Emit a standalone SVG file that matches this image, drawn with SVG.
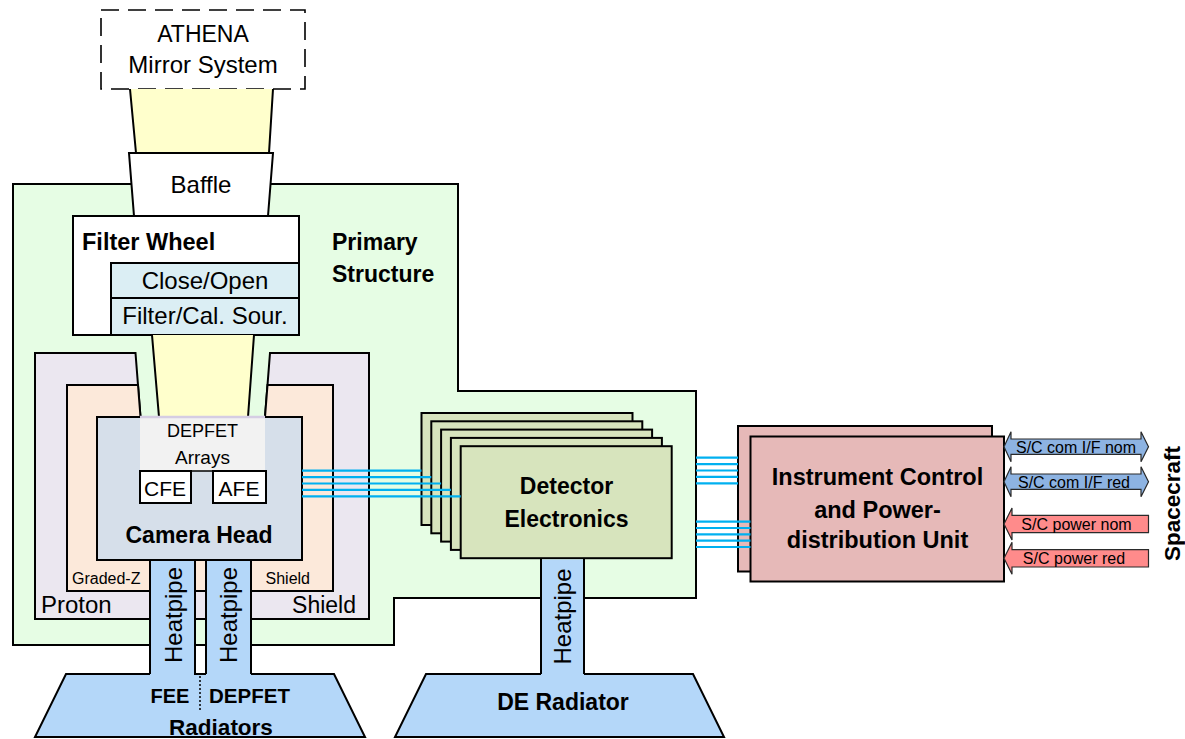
<svg xmlns="http://www.w3.org/2000/svg" width="1185" height="739" viewBox="0 0 1185 739">
<style>
text { font-family: "Liberation Sans", Arial, sans-serif; fill: #000; }
.b { font-weight: bold; }
.box { stroke: #000; stroke-width: 2; }
.edge { fill: none; stroke: #000; stroke-width: 2; }
.cable { stroke: #00b0f0; stroke-width: 2.2; fill: none; }
.pipe { fill: #b4d7f9; }
.beam { fill: #ffffcc; }
.de { fill: #d7e4bd; }
.icpu { fill: #e6b9b8; }
.com { fill: #8db3e2; stroke: #2a2a2a; stroke-width: 1.2; }
.pwr { fill: #ff8b8b; stroke: #2a2a2a; stroke-width: 1.2; }
</style>
<rect width="1185" height="739" fill="#fff"/>

<!-- primary structure (stepped outline) -->
<g id="primary-structure">
  <path d="M13,184 H458 V391 H696 V598 H394 V645 H13 Z" fill="#e6fde4" class="box"/>
  <text class="b" x="332" y="250" font-size="23">Primary</text>
  <text class="b" x="332" y="281.5" font-size="23">Structure</text>
</g>

<!-- telescope optics -->
<g id="mirror-system">
  <rect x="101" y="10" width="204" height="79" fill="#fff" stroke="#000" stroke-width="1.6" stroke-dasharray="18 9"/>
  <text x="203" y="41.5" font-size="23" text-anchor="middle">ATHENA</text>
  <text x="203" y="73" font-size="24" text-anchor="middle">Mirror System</text>
</g>

<g id="beam-upper">
  <path d="M130,89 L136,153 H269 L273,89 Z" class="beam"/>
  <path d="M130,89 L136,153 M273,89 L269,153" class="edge"/>
</g>

<g id="baffle">
  <path d="M129,153 H273 L268,216 H134 Z" fill="#fff" class="box"/>
  <text x="201" y="192.5" font-size="24" text-anchor="middle">Baffle</text>
</g>

<g id="filter-wheel">
  <rect x="73" y="216" width="226" height="119" fill="#fff" class="box"/>
  <text class="b" x="82" y="249.5" font-size="23.5">Filter Wheel</text>
  <rect x="111" y="263" width="188" height="35" fill="#dbeef4" class="box"/>
  <rect x="111" y="298" width="188" height="37" fill="#dbeef4" class="box"/>
  <text x="205" y="288.5" font-size="24" text-anchor="middle">Close/Open</text>
  <text x="205" y="324" font-size="24" text-anchor="middle">Filter/Cal. Sour.</text>
</g>

<!-- shielding around the camera -->
<g id="proton-shield">
  <path d="M35,353 H135.5 L140.5,417 H265 L270,353 H369 V619 H35 Z" fill="#ebe7f0"/>
  <path d="M140.5,417 L135.5,353 H35 V619 H369 V353 H270 L265,417" class="edge"/>
  <text x="41" y="613" font-size="24">Proton</text>
  <text x="356" y="613" font-size="23" text-anchor="end">Shield</text>
</g>

<g id="graded-z-shield">
  <path d="M67,385 H138 L140.5,417 H265 L267.5,385 H333 V591 H67 Z" fill="#fce9da"/>
  <path d="M140.5,417 L138,385 H67 V591 H333 V385 H267.5 L265,417" class="edge"/>
  <text x="72" y="584" font-size="16">Graded-Z</text>
  <text x="265.5" y="584" font-size="16">Shield</text>
</g>

<g id="beam-lower">
  <path d="M152,335 L159,417 H248 L254,335 Z" class="beam"/>
  <path d="M152,335 L159,417 M254,335 L248,417" class="edge"/>
</g>

<g id="camera-head">
  <rect x="97" y="417" width="205" height="143" fill="#d6dfea" class="box"/>
  <rect x="140" y="416" width="125" height="55" fill="#f2f2f2"/>
  <line x1="140" y1="417" x2="265" y2="417" stroke="#d5cde3" stroke-width="2.5"/>
  <line x1="140" y1="471" x2="266" y2="471" stroke="#000" stroke-width="1.5"/>
  <text x="202.5" y="437" font-size="18" text-anchor="middle">DEPFET</text>
  <text x="202.5" y="463.5" font-size="19" text-anchor="middle">Arrays</text>
  <rect x="140" y="471" width="51" height="32" fill="#fff" class="box"/>
  <rect x="213" y="471" width="53" height="32" fill="#fff" class="box"/>
  <text x="165" y="495.5" font-size="21" text-anchor="middle">CFE</text>
  <text x="239" y="495.5" font-size="21" text-anchor="middle">AFE</text>
  <text class="b" x="199" y="542.5" font-size="23" text-anchor="middle">Camera Head</text>
</g>

<g id="fee-depfet-radiators">
  <path d="M66,674 H334 L365,737 H35 Z" class="pipe box"/>
  <rect x="150" y="561" width="45" height="114" class="pipe"/>
  <rect x="206" y="561" width="45" height="114" class="pipe"/>
  <path d="M150,560 V674 M195,560 V674 H206 M206,560 V674 M251,560 V674" class="edge"/>
  <line x1="200" y1="676" x2="200" y2="712" stroke="#000" stroke-width="1.5" stroke-dasharray="2 2"/>
  <text transform="translate(181.5,615) rotate(-90)" font-size="24" text-anchor="middle">Heatpipe</text>
  <text transform="translate(237,615) rotate(-90)" font-size="24" text-anchor="middle">Heatpipe</text>
  <text class="b" x="170" y="702.5" font-size="20" text-anchor="middle">FEE</text>
  <text class="b" x="249.5" y="702.5" font-size="20.5" text-anchor="middle">DEPFET</text>
  <text class="b" x="221" y="735" font-size="22.5" text-anchor="middle">Radiators</text>
</g>

<!-- stack of detector electronics boards -->
<g id="detector-electronics">
  <rect x="421.5" y="413" width="211" height="112" class="de box"/>
  <rect x="431.3" y="421.3" width="211" height="112" class="de box"/>
  <rect x="441.1" y="429.6" width="211" height="112" class="de box"/>
  <rect x="450.9" y="437.9" width="211" height="112" class="de box"/>
  <rect x="460.7" y="446.2" width="211" height="112" class="de box"/>
  <text class="b" x="566.5" y="493.5" font-size="23" text-anchor="middle">Detector</text>
  <text class="b" x="566.5" y="527" font-size="23" text-anchor="middle">Electronics</text>
</g>

<g id="de-radiator">
  <path d="M426,674 H693 L724,737 H395 Z" class="pipe box"/>
  <rect x="541" y="559.5" width="43" height="115.5" class="pipe"/>
  <path d="M541,558 V674 M584,558 V674" class="edge"/>
  <text transform="translate(571,616.5) rotate(-90)" font-size="24" text-anchor="middle">Heatpipe</text>
  <text class="b" x="563" y="709.5" font-size="23" text-anchor="middle">DE Radiator</text>
</g>

<g id="icpu">
  <rect x="738" y="426" width="254" height="145.5" class="icpu box"/>
  <rect x="750.5" y="436.5" width="253.5" height="145" class="icpu box"/>
  <text class="b" x="877.5" y="485" font-size="23.5" text-anchor="middle">Instrument Control</text>
  <text class="b" x="877.5" y="518.3" font-size="23.5" text-anchor="middle">and Power-</text>
  <text class="b" x="877.5" y="548.3" font-size="23.5" text-anchor="middle">distribution Unit</text>
</g>

<g id="spacecraft">
  <text class="b" transform="translate(1180,503.5) rotate(-90)" font-size="22.5" text-anchor="middle">Spacecraft</text>
</g>

<!-- harness lines and spacecraft interfaces -->
<g id="connectors">
  <g class="cable">
    <line x1="302" y1="470.7" x2="421.5" y2="470.7"/>
    <line x1="302" y1="477.1" x2="431.3" y2="477.1"/>
    <line x1="302" y1="483.5" x2="441.1" y2="483.5"/>
    <line x1="302" y1="489.9" x2="450.9" y2="489.9"/>
    <line x1="302" y1="496.3" x2="460.7" y2="496.3"/>

    <line x1="696" y1="457.7" x2="738" y2="457.7"/>
    <line x1="696" y1="464.1" x2="738" y2="464.1"/>
    <line x1="696" y1="470.5" x2="738" y2="470.5"/>
    <line x1="696" y1="476.9" x2="738" y2="476.9"/>
    <line x1="696" y1="483.3" x2="738" y2="483.3"/>

    <line x1="696" y1="521.7" x2="750.5" y2="521.7"/>
    <line x1="696" y1="528" x2="750.5" y2="528"/>
    <line x1="696" y1="534.3" x2="750.5" y2="534.3"/>
    <line x1="696" y1="540.6" x2="750.5" y2="540.6"/>
    <line x1="696" y1="547" x2="750.5" y2="547"/>
  </g>

  <polygon class="com" points="1004,446.7 1011,431.7 1011,439 1141,439 1141,431.7 1148.5,446.7 1141,461.7 1141,454.3 1011,454.3 1011,461.7"/>
  <text x="1076" y="453" font-size="16" text-anchor="middle">S/C com I/F nom</text>

  <polygon class="com" points="1004,481.7 1011,466.7 1011,474 1141,474 1141,466.7 1148.5,481.7 1141,496.7 1141,489.4 1011,489.4 1011,496.7"/>
  <text x="1074" y="488" font-size="16" text-anchor="middle">S/C com I/F red</text>

  <polygon class="pwr" points="1004,524 1012,508 1012,515.3 1148.5,515.3 1148.5,532.7 1012,532.7 1012,540"/>
  <text x="1076.5" y="529.5" font-size="16" text-anchor="middle">S/C power nom</text>

  <polygon class="pwr" points="1004,558.3 1012,542.3 1012,549.6 1148.5,549.6 1148.5,567 1012,567 1012,574.3"/>
  <text x="1074" y="564" font-size="16" text-anchor="middle">S/C power red</text>
</g>
</svg>
